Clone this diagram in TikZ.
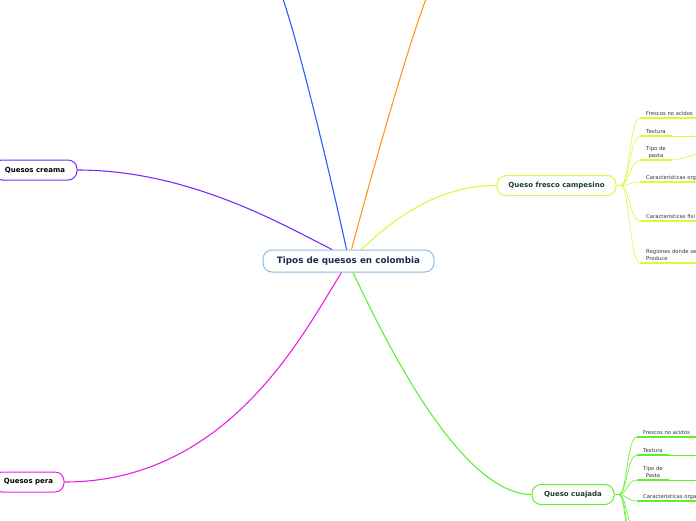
\documentclass[tikz,border=0pt]{standalone}
\usepackage{fontspec}
\setmainfont{DejaVu Sans}
\definecolor{cblue}{HTML}{2A5BFF}
\definecolor{corange}{HTML}{FF9B1A}
\definecolor{cpurple}{HTML}{7B2BFF}
\definecolor{cyellow}{HTML}{D5FB3A}
\definecolor{cmagenta}{HTML}{E81EE8}
\definecolor{cgreen}{HTML}{5CF02E}
\definecolor{cframe}{HTML}{8ABDE6}
\definecolor{cnavy}{HTML}{1B2C4E}
\definecolor{cteal}{HTML}{1F3B33}
\definecolor{cleaf}{HTML}{333333}
\tikzset{
  rootbox/.style={draw=cframe, line width=1pt, rounded corners=9pt, fill=white, minimum width=171pt, minimum height=22pt, font=\fontsize{8.8}{10}\selectfont\bfseries, text=cnavy},
  topicbox/.style={rounded corners=9pt, fill=white, line width=1pt, minimum height=20pt, font=\fontsize{7}{8}\selectfont\bfseries},
  leaf/.style={anchor=south west, inner xsep=6pt, inner ysep=2.5pt, text depth=0pt, font=\fontsize{5.3}{6.5}\selectfont, text=cleaf},
  branch/.style={line width=1.1pt},
  twig/.style={line width=0.6pt},
  uline/.style={line width=1.6pt}
}
\begin{document}
\begin{tikzpicture}[x=1pt,y=-1pt]
\useasboundingbox (0,0) rectangle (696,520);
\node[rootbox] (root) at (348.5,261) {Tipos de quesos en colombia};
\node[topicbox, draw=cyellow, text=cteal, minimum width=119pt] (fresco) at (556.5,185.5) {Queso fresco campesino};
\node[topicbox, draw=cpurple, text=black, minimum width=84pt] (crema) at (35,170) {Quesos creama};
\node[topicbox, draw=cmagenta, text=black, minimum width=71pt] (pera) at (28.5,482) {Quesos pera};
\node[topicbox, draw=cgreen, text=cteal, minimum width=82pt] (cuajada) at (573,494.5) {Queso cuajada};
\coordinate (upA) at (283,-1);
\coordinate (upB) at (426,-1);
\draw[branch, cblue] ([xshift=-2pt]root.north) .. controls (336,200) and (302,55) .. (upA);
\draw[branch, corange] ([xshift=3pt]root.north) .. controls (362,210) and (403,60) .. (upB);
\draw[branch, cpurple] ([xshift=-16.5pt]root.north) .. controls (285,226) and (190,170) .. (crema.east);
\draw[branch, cyellow] ([xshift=13pt]root.north) .. controls (400,212) and (445,185) .. (fresco.west);
\draw[branch, cmagenta] ([xshift=-7pt]root.south) .. controls (305,330) and (230,482) .. (pera.east);
\draw[branch, cgreen] ([xshift=4.5pt]root.south) .. controls (385,340) and (460,494) .. (cuajada.west);
\coordinate (fj) at (621,185.5);
\draw[branch, cyellow] (fresco.east) -- (fj);
\node[leaf] (f1) at (640,118) {Frescos no acidos};
\node[leaf] (f2) at (640,136) {Textura};
\node[leaf, align=center] (f3) at (640,160) {Tipo de\\pasta};
\node[leaf] (f4) at (640,182) {Caracteristicas org};
\node[leaf] (f5) at (640,221) {Caracteristicas fisi};
\node[leaf, align=left] (f6) at (640,263) {Regiones donde se\\Produce};
\draw[twig, cyellow] (fj) .. controls +(8,0) and +(-10,0) .. (f1.south west);
\draw[twig, cyellow] (fj) .. controls +(8,0) and +(-10,0) .. (f2.south west);
\draw[twig, cyellow] (fj) .. controls +(8,0) and +(-10,0) .. (f3.south west);
\draw[twig, cyellow] (fj) .. controls +(8,0) and +(-10,0) .. (f4.south west);
\draw[twig, cyellow] (fj) .. controls +(8,0) and +(-10,0) .. (f5.south west);
\draw[twig, cyellow] (fj) .. controls +(8,0) and +(-10,0) .. (f6.south west);
\draw[uline, cyellow] (f1.south west) -- ++(70,0);
\draw[uline, cyellow] (f2.south west) -- (f2.south east);
\draw[uline, cyellow] (f3.south west) -- (f3.south east);
\draw[uline, cyellow] (f4.south west) -- ++(70,0);
\draw[uline, cyellow] (f5.south west) -- ++(70,0);
\draw[uline, cyellow] (f6.south west) -- ++(70,0);
\coordinate (f2x) at (712,136);
\coordinate (f3x) at (712,151);
\draw[twig, cyellow] (f2.south east) -- (f2x);
\draw[twig, cyellow] (f3.south east) .. controls +(10,0) and +(-10,0) .. (f3x);
\coordinate (cj) at (619,494.5);
\draw[branch, cgreen] (cuajada.east) -- (cj);
\node[leaf] (c1) at (637,437) {Frescos no acidos};
\node[leaf] (c2) at (637,455) {Textura};
\node[leaf, align=center] (c3) at (637,480) {Tipo de\\Pasta};
\node[leaf] (c4) at (637,501) {Caracteristicas orga};
\coordinate (c5) at (637,532);
\coordinate (c6) at (637,556);
\coordinate (c7) at (637,580);
\draw[twig, cgreen] (cj) .. controls +(8,0) and +(-10,0) .. (c1.south west);
\draw[twig, cgreen] (cj) .. controls +(8,0) and +(-10,0) .. (c2.south west);
\draw[twig, cgreen] (cj) .. controls +(8,0) and +(-10,0) .. (c3.south west);
\draw[twig, cgreen] (cj) .. controls +(8,0) and +(-10,0) .. (c4.south west);
\draw[twig, cgreen] (cj) .. controls +(8,0) and +(-10,0) .. (c5);
\draw[twig, cgreen] (cj) .. controls +(8,0) and +(-10,0) .. (c6);
\draw[twig, cgreen] (cj) .. controls +(8,0) and +(-10,0) .. (c7);
\draw[uline, cgreen] (c1.south west) -- ++(70,0);
\draw[uline, cgreen] (c2.south west) -- (c2.south east);
\draw[uline, cgreen] (c3.south west) -- (c3.south east);
\draw[uline, cgreen] (c4.south west) -- ++(70,0);
\coordinate (c2x) at (712,455);
\coordinate (c3x) at (712,480);
\draw[twig, cgreen] (c2.south east) -- (c2x);
\draw[twig, cgreen] (c3.south east) -- (c3x);
\end{tikzpicture}
\end{document}
